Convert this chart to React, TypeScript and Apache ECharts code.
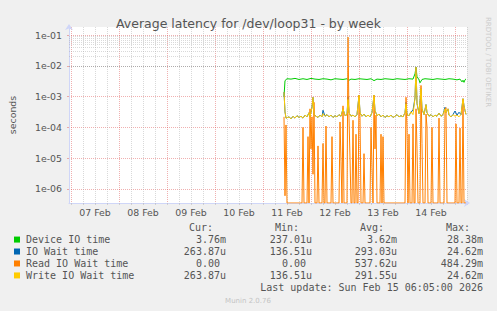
import React, { useEffect, useRef } from 'react';
import * as echarts from 'echarts';

const TITLE = 'Average latency for /dev/loop31 - by week';
const DAY_LABELS = ['07 Feb', '08 Feb', '09 Feb', '10 Feb', '11 Feb', '12 Feb', '13 Feb', '14 Feb'];
// x values are hours relative to Feb 11 00:00
const START_HOUR = -97; // Feb 06 23:00
const END_HOUR = 102; // Feb 15 06:00
const Y_MIN = 3.5e-7;
const Y_MAX = 0.182;

const SERIES_NAMES = ['Device IO time', 'IO Wait time', 'Read IO Wait time', 'Write IO Wait time'];
const SERIES_COLORS = ['#00CC00', '#0066B3', '#FF8000', '#FFCC00'];

const deviceIO: [number, number][] = [
  [10.5, 1.0e-3], [11, 3.3e-3], [12, 3.8e-3], [14, 3.7e-3], [16, 3.9e-3], [18, 3.6e-3], [20, 3.8e-3],
  [22, 3.6e-3], [24, 3.9e-3], [26, 3.7e-3], [28, 3.6e-3], [30, 3.8e-3], [32, 3.7e-3], [34, 3.5e-3],
  [36, 3.8e-3], [38, 3.7e-3], [40, 3.6e-3], [42, 3.8e-3], [43, 3.4e-3], [44, 3.7e-3], [46, 3.6e-3],
  [48, 3.8e-3], [50, 3.7e-3], [52, 3.6e-3], [54, 3.8e-3], [55.5, 3.3e-3], [57, 3.7e-3], [59, 3.6e-3],
  [61, 3.8e-3], [63, 3.7e-3], [65, 3.6e-3], [67, 3.8e-3], [69, 3.7e-3], [71, 3.6e-3], [73, 3.8e-3],
  [75, 3.7e-3], [76, 5.5e-3], [76.5, 8.8e-3], [77, 4.5e-3], [78, 3.5e-3], [78.5, 2.8e-3], [79.5, 3.6e-3],
  [81, 3.8e-3], [83, 3.7e-3], [85, 3.6e-3], [87, 3.8e-3], [89, 3.7e-3], [91, 3.6e-3], [93, 3.8e-3],
  [95, 3.7e-3], [97, 3.5e-3], [98.5, 3.7e-3], [99.5, 3.0e-3], [100, 3.4e-3], [100.5, 2.9e-3],
  [101, 3.5e-3], [101.5, 3.76e-3],
];

const ioWait: [number, number][] = [
  [10.5, 1.4e-3], [11, 3.2e-4], [11.5, 2.0e-4], [13, 2.2e-4], [14, 1.9e-4], [15, 2.3e-4], [16, 2.0e-4],
  [17, 2.4e-4], [18, 2.1e-4], [19, 2.3e-4], [20, 2.0e-4], [21, 2.5e-4], [22, 2.2e-4], [23, 3.0e-4],
  [23.5, 2.2e-4], [24.5, 4.5e-4], [25, 9.5e-4], [25.5, 2.6e-4], [26.5, 2.3e-4], [27.5, 2.1e-4],
  [28.5, 2.5e-4], [29.5, 2.2e-4], [30, 3.6e-4], [31, 2.3e-4], [32, 2.6e-4], [33, 2.2e-4], [34, 2.5e-4],
  [35, 2.1e-4], [36, 2.4e-4], [37, 2.2e-4], [38, 2.6e-4], [39, 2.3e-4], [40, 4.0e-4], [41, 2.4e-4],
  [42, 2.6e-4], [42.5, 1.0e-3], [43, 3.0e-4], [44, 2.3e-4], [45, 2.5e-4], [46, 2.2e-4], [47, 2.6e-4],
  [48, 1.1e-3], [48.5, 3.0e-4], [49.5, 2.3e-4], [50.5, 2.7e-4], [51.5, 2.2e-4], [52.5, 2.5e-4],
  [53.5, 2.2e-4], [54.5, 3.0e-4], [55.5, 1.1e-3], [56, 3.5e-4], [57, 2.4e-4], [58, 2.7e-4], [59, 2.2e-4],
  [60, 2.5e-4], [61, 2.1e-4], [62, 2.4e-4], [63, 2.2e-4], [64, 2.5e-4], [65, 2.1e-4], [66, 2.3e-4],
  [67, 2.6e-4], [68, 2.2e-4], [69, 2.4e-4], [70, 2.2e-4], [71, 3.0e-4], [71.5, 6.5e-4], [72, 2.6e-4],
  [73, 2.4e-4], [74, 3.2e-4], [75, 3.6e-4], [76, 9.0e-4], [76.5, 9.0e-3], [77, 6.0e-4], [78, 2.8e-4],
  [79, 1.8e-3], [79.5, 4.0e-4], [80.5, 2.6e-4], [81.5, 5.5e-4], [82, 3.0e-4], [83, 2.3e-4], [84, 2.6e-4],
  [85, 2.2e-4], [86, 2.5e-4], [87, 2.3e-4], [88, 2.9e-4], [89, 2.3e-4], [90, 2.6e-4], [91, 4.5e-4],
  [91.5, 3.0e-4], [92.5, 4.0e-4], [93, 2.5e-4], [94, 2.2e-4], [95, 2.6e-4], [96, 3.4e-4], [97, 2.5e-4],
  [98, 3.1e-4], [99, 2.6e-4], [100, 8.5e-4], [100.5, 5.0e-4], [101, 3.5e-4], [101.5, 2.64e-4],
];

const readIO: [number, number][] = [
  [10.5, 2.2e-4], [11, 6e-7], [11.5, 1.2e-4], [12, 0], [19.5, 0], [20, 1.0e-4], [20.5, 0], [22, 0],
  [22.5, 5e-5], [23, 0], [23.5, 4e-4], [24, 2e-5], [24.5, 2.2e-4], [25, 3e-6], [25.5, 6.5e-4], [26, 0],
  [27, 0], [27.5, 2.5e-5], [28, 0], [29.5, 0], [30, 3e-5], [30.5, 0], [31, 0], [31.5, 1.1e-4], [32, 0],
  [34, 0], [34.5, 5e-5], [35, 0], [38, 0], [38.5, 1.5e-4], [39, 8e-6], [39.5, 0], [40, 5e-4], [40.5, 0],
  [42, 0], [42.5, 8.5e-2], [43, 2e-4], [43.5, 1e-5], [44, 0], [44.5, 0], [45, 1.7e-4], [45.5, 0], [46, 0],
  [46.5, 6e-5], [47, 0], [47.5, 0], [48, 1.1e-3], [48.5, 2e-4], [49, 0], [50, 0], [50.5, 1.4e-5], [51, 0],
  [53.5, 0], [54, 1e-4], [54.5, 5e-6], [55, 0], [55.5, 1.1e-3], [56, 2e-5], [56.5, 2.5e-4], [57, 0],
  [58.5, 0], [59, 6e-5], [59.5, 0], [60, 5e-5], [60.5, 0], [71, 0], [71.5, 9.5e-4], [72, 1e-4], [72.5, 0],
  [73, 6e-5], [73.5, 0], [74.5, 0], [75, 1.3e-4], [75.5, 0], [76, 0], [76.5, 4e-4], [77, 2e-5], [77.5, 0],
  [78.5, 0], [79, 2.3e-3], [79.5, 3e-5], [80, 0], [81, 0], [81.5, 2.7e-4], [82, 1e-4], [82.5, 0], [84, 0],
  [84.5, 1e-4], [85, 0], [87.5, 0], [88, 2e-4], [88.5, 0], [90.5, 0], [91, 3.5e-4], [91.5, 4.4e-4], [92, 0],
  [96, 0], [96.5, 1.3e-4], [97, 0], [98, 0], [98.5, 9.5e-5], [99, 0], [99.5, 0], [100, 8.4e-4], [100.5, 0],
  [101.5, 0],
];

const writeIO: [number, number][] = [
  [10.5, 1.4e-3], [11, 3.2e-4], [11.5, 2.0e-4], [13, 2.2e-4], [14, 1.9e-4], [15, 2.3e-4], [16, 2.0e-4],
  [17, 2.4e-4], [18, 2.1e-4], [19, 2.3e-4], [20, 2.0e-4], [21, 2.5e-4], [22, 2.2e-4], [23, 3.0e-4],
  [23.5, 2.2e-4], [24.5, 4.5e-4], [25, 9.5e-4], [25.5, 2.6e-4], [26.5, 2.3e-4], [27.5, 2.1e-4],
  [28.5, 2.5e-4], [29.5, 2.2e-4], [30, 2.8e-4], [31, 2.3e-4], [32, 2.6e-4], [33, 2.2e-4], [34, 2.5e-4],
  [35, 2.1e-4], [36, 2.4e-4], [37, 2.2e-4], [38, 2.6e-4], [39, 2.3e-4], [40, 4.0e-4], [41, 2.4e-4],
  [42, 2.6e-4], [42.5, 8.0e-4], [43, 3.0e-4], [44, 2.3e-4], [45, 2.5e-4], [46, 2.2e-4], [47, 2.6e-4],
  [48, 1.1e-3], [48.5, 3.0e-4], [49.5, 2.3e-4], [50.5, 2.7e-4], [51.5, 2.2e-4], [52.5, 2.5e-4],
  [53.5, 2.2e-4], [54.5, 3.0e-4], [55.5, 1.1e-3], [56, 3.5e-4], [57, 2.4e-4], [58, 2.7e-4], [59, 2.2e-4],
  [60, 2.5e-4], [61, 2.1e-4], [62, 2.4e-4], [63, 2.2e-4], [64, 2.5e-4], [65, 2.1e-4], [66, 2.3e-4],
  [67, 2.6e-4], [68, 2.2e-4], [69, 2.4e-4], [70, 2.2e-4], [71, 3.0e-4], [71.5, 5.8e-4], [72, 2.6e-4],
  [73, 2.4e-4], [74, 3.2e-4], [75, 2.6e-4], [76, 9.0e-4], [76.5, 9.0e-3], [77, 6.0e-4], [78, 2.8e-4],
  [79, 1.8e-3], [79.5, 4.0e-4], [80.5, 2.6e-4], [81.5, 5.5e-4], [82, 3.0e-4], [83, 2.3e-4], [84, 2.6e-4],
  [85, 2.2e-4], [86, 2.5e-4], [87, 2.3e-4], [88, 2.9e-4], [89, 2.3e-4], [90, 2.6e-4], [91, 4.0e-4],
  [91.5, 3.0e-4], [92.5, 4.0e-4], [93, 2.5e-4], [94, 2.2e-4], [95, 2.6e-4], [96, 2.3e-4], [97, 2.5e-4],
  [98, 2.2e-4], [99, 2.6e-4], [100, 8.5e-4], [100.5, 5.0e-4], [101, 3.5e-4], [101.5, 2.64e-4],
];

const STAT_HEADERS = ['Cur:', 'Min:', 'Avg:', 'Max:'];
const CUR = ['3.76m', '263.87u', '0.00', '263.87u'];
const MIN = ['237.01u', '136.51u', '0.00', '136.51u'];
const AVG = ['3.62m', '293.03u', '537.62u', '291.55u'];
const MAX = ['28.38m', '24.62m', '484.29m', '24.62m'];
const LAST_UPDATE = 'Last update: Sun Feb 15 06:05:00 2026';
const VERSION = 'Munin 2.0.76';
const SIDE_TEXT = 'RRDTOOL / TOBI OETIKER';

const MGRID = 'rgba(222,79,79,0.45)';
const GRID = 'rgba(170,170,170,0.45)';
const FONT = '#555';
const AXIS = '#CFD6F8';

export default function App() {
  const ref = useRef<HTMLDivElement>(null);
  useEffect(() => {
    if (!ref.current) return;
    const chart = echarts.init(ref.current, undefined, { renderer: 'svg' });

    const slots: string[] = [];
    for (let h = START_HOUR; h <= END_HOUR; h++) slots.push(String(h));

    const minorY: number[] = [];
    for (let e = -7; e <= -1; e++) {
      for (let m = 2; m <= 9; m++) {
        const v = m * Math.pow(10, e);
        if (v > Y_MIN && v < Y_MAX) minorY.push(v);
      }
    }

    const colRight = [226, 312, 397, 483];
    const headRight = [213, 299, 384, 470];
    const rowY = [239.5, 251.5, 263.5, 275.4];
    const cols = [CUR, MIN, AVG, MAX];
    const mono = '10px "DejaVu Sans Mono", monospace';
    const graphics: any[] = [];
    STAT_HEADERS.forEach((t, c) => {
      graphics.push({ type: 'text', x: headRight[c], y: 227.5, silent: true,
        style: { text: t, font: mono, fill: FONT, align: 'right', verticalAlign: 'middle', textAlign: 'right', textVerticalAlign: 'middle' } });
    });
    cols.forEach((col, c) => {
      col.forEach((t, r) => {
        const noUnit = /\d$/.test(t);
        graphics.push({ type: 'text', x: colRight[c] - (noUnit ? 6 : 0), y: rowY[r], silent: true,
          style: { text: t, font: mono, fill: FONT, align: 'right', verticalAlign: 'middle', textAlign: 'right', textVerticalAlign: 'middle' } });
      });
    });
    graphics.push({ type: 'text', x: 483, y: 287.7, silent: true,
      style: { text: LAST_UPDATE, font: mono, fill: FONT, align: 'right', verticalAlign: 'middle', textAlign: 'right', textVerticalAlign: 'middle' } });
    graphics.push({ type: 'text', x: 248, y: 300.5, silent: true,
      style: { text: VERSION, font: '7px "DejaVu Sans"', fill: '#c4c4c4', align: 'center', verticalAlign: 'middle', textAlign: 'center', textVerticalAlign: 'middle' } });
    graphics.push({ type: 'text', x: 488, y: 62, rotation: -Math.PI / 2, silent: true,
      style: { text: SIDE_TEXT, font: '7px "DejaVu Sans"', fill: '#cccccc', align: 'center', verticalAlign: 'middle', textAlign: 'center', textVerticalAlign: 'middle' } });

    const mk = (i: number, pts: [number, number][]) => ({
      type: 'line',
      name: SERIES_NAMES[i],
      xAxisIndex: 1,
      yAxisIndex: 0,
      data: pts.map(([h, v]) => [h, v > 0 ? v : Y_MIN]),
      showSymbol: false,
      symbol: 'none',
      lineStyle: { width: 1, color: SERIES_COLORS[i] },
      itemStyle: { color: SERIES_COLORS[i] },
      z: 3,
      silent: true,
    });

    const yFmt = (v: number) => {
      const e = Math.round(Math.log10(v));
      const s = e < 0 ? '-' : '+';
      return `1e${s}${String(Math.abs(e)).padStart(2, '0')}`;
    };

    chart.setOption({
      animation: false,
      backgroundColor: '#F0F0F0',
      title: {
        text: TITLE, left: 'center', top: 11,
        textStyle: { fontSize: 12.5, fontWeight: 'normal', color: FONT, fontFamily: 'DejaVu Sans', lineHeight: 15 },
      },
      grid: { left: 67, right: 30, top: 27, bottom: 108, show: true, backgroundColor: '#FFFFFF', borderWidth: 0 },
      legend: {
        orient: 'vertical', left: 14, top: 233.6, padding: 0, itemGap: 0, itemWidth: 6, itemHeight: 6,
        icon: 'rect', selectedMode: false, data: SERIES_NAMES,
        textStyle: { fontFamily: '"DejaVu Sans Mono", monospace', fontSize: 10, color: FONT, lineHeight: 11.95, padding: [0, 0, 0, 1] },
      },
      xAxis: [
        {
          type: 'category', data: slots, boundaryGap: false,
          axisLine: { show: true, onZero: false, lineStyle: { color: AXIS }, symbol: ['none', 'arrow'], symbolSize: [6, 6], symbolOffset: [0, 3] },
          axisTick: { show: true, interval: (i: number) => i % 6 === 1, length: 2, lineStyle: { color: GRID } },
          axisLabel: {
            interval: (i: number) => i % 24 === 13,
            formatter: (_v: string, i: number) => DAY_LABELS[(i - 13) / 24] ?? '',
            margin: 4, fontSize: 9.4, lineHeight: 10, color: FONT, fontFamily: 'DejaVu Sans',
          },
          splitLine: { show: true, interval: (i: number) => i % 6 === 1, lineStyle: { color: [MGRID, GRID, GRID, GRID], type: [1, 1], width: 1 } },
        },
        { type: 'value', min: START_HOUR, max: END_HOUR, show: false, splitLine: { show: false } },
      ],
      yAxis: {
        type: 'log', logBase: 10, min: Y_MIN, max: Y_MAX,
        name: 'seconds', nameLocation: 'middle', nameGap: 52, nameRotate: 90,
        nameTextStyle: { fontSize: 9.4, color: FONT, fontFamily: 'DejaVu Sans' },
        axisLine: { show: true, onZero: false, lineStyle: { color: AXIS }, symbol: ['none', 'arrow'], symbolSize: [6, 6], symbolOffset: [0, 3] },
        axisTick: { show: true, length: 2, lineStyle: { color: MGRID } },
        axisLabel: { showMinLabel: false, showMaxLabel: false, margin: 7, fontSize: 9.4, color: FONT, fontFamily: 'DejaVu Sans', formatter: yFmt },
        splitLine: { show: true, showMinLine: false, showMaxLine: false, lineStyle: { color: MGRID, type: [1, 1], width: 1 } },
      },
      graphic: graphics,
      series: [
        {
          type: 'line', name: 'minor-grid', xAxisIndex: 1, yAxisIndex: 0, data: [], silent: true, z: 1,
          markLine: {
            silent: true, symbol: ['none', 'none'], label: { show: false }, animation: false,
            lineStyle: { color: GRID, type: [1, 1], width: 1 },
            emphasis: { disabled: true },
            data: minorY.map((v) => ({ yAxis: v })),
          },
        },
        mk(0, deviceIO),
        mk(1, ioWait),
        mk(2, readIO),
        mk(3, writeIO),
      ],
    });
    return () => chart.dispose();
  }, []);
  return <div ref={ref} style={{ position: 'fixed', left: 0, top: 0, width: 497, height: 311 }} />;
}
